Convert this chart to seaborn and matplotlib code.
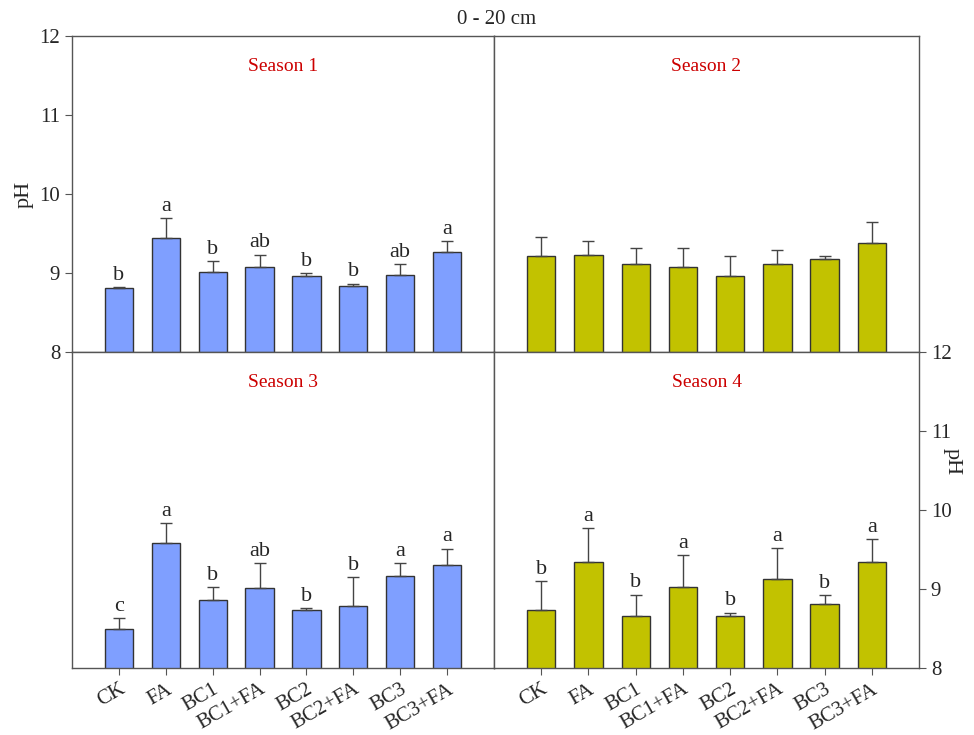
import numpy as np
import pandas as pd
import seaborn as sns
import matplotlib.pyplot as plt

treatments = ['CK', 'FA', 'BC1', 'BC1+FA', 'BC2', 'BC2+FA', 'BC3', 'BC3+FA']

s1_mean = [8.81, 9.44, 9.01, 9.07, 8.96, 8.835, 8.98, 9.27]
s1_err = [0.01, 0.25, 0.14, 0.16, 0.04, 0.03, 0.13, 0.13]
s1_let = ['b', 'a', 'b', 'ab', 'b', 'b', 'ab', 'a']

s2_mean = [9.22, 9.23, 9.11, 9.08, 8.96, 9.11, 9.18, 9.38]
s2_err = [0.24, 0.18, 0.21, 0.24, 0.25, 0.18, 0.03, 0.27]
s2_let = ['', '', '', '', '', '', '', '']

s3_mean = [8.50, 9.58, 8.86, 9.01, 8.74, 8.78, 9.17, 9.31]
s3_err = [0.13, 0.25, 0.16, 0.32, 0.015, 0.37, 0.16, 0.20]
s3_let = ['c', 'a', 'b', 'ab', 'b', 'b', 'a', 'a']

s4_mean = [8.74, 9.34, 8.66, 9.03, 8.66, 9.13, 8.81, 9.34]
s4_err = [0.36, 0.43, 0.27, 0.40, 0.04, 0.39, 0.11, 0.29]
s4_let = ['b', 'a', 'b', 'a', 'b', 'a', 'b', 'a']

sns.set_style('white')
plt.rcParams['font.family'] = ['Liberation Serif', 'DejaVu Serif']
plt.rcParams['axes.edgecolor'] = '#555555'
plt.rcParams['axes.linewidth'] = 1.0

blue = '#7f9fff'
olive = '#c2c200'

fig = plt.figure(figsize=(9.74, 7.35), dpi=100)
W, H = 974, 735


def box(x0, y0, x1, y1):
    return fig.add_axes([x0 / W, 1 - y1 / H, (x1 - x0) / W, (y1 - y0) / H])


panels = [
    (box(72, 36, 494, 352), s1_mean, s1_err, s1_let, blue, 'Season 1', 'tl'),
    (box(494, 36, 919, 352), s2_mean, s2_err, s2_let, olive, 'Season 2', 'tr'),
    (box(72, 352, 494, 668), s3_mean, s3_err, s3_let, blue, 'Season 3', 'bl'),
    (box(494, 352, 919, 668), s4_mean, s4_err, s4_let, olive, 'Season 4', 'br'),
]

for ax, mean, err, let, col, title, pos in panels:
    df = pd.DataFrame({'treatment': treatments, 'pH': mean})
    sns.barplot(data=df, x='treatment', y='pH', ax=ax, color=col,
                width=0.6, saturation=1, edgecolor='#333333', linewidth=1.0,
                errorbar=None)
    xs = np.arange(len(treatments))
    ax.errorbar(xs, mean, yerr=[np.zeros(len(err)), err], fmt='none',
                ecolor='#444444', elinewidth=1.0, capsize=4, capthick=1.0)
    for x, m, e, l in zip(xs, mean, err, let):
        if l:
            ax.text(x, m + e + 0.03, l, ha='center', va='bottom', fontsize=16)
    ax.set_xlim(-1, 8)
    ax.set_ylim(8, 12)
    ax.set_yticks([8, 9, 10, 11, 12])
    ax.set_xlabel('')
    ax.set_ylabel('')
    ax.text(0.5, 0.905, title, transform=ax.transAxes, ha='center', va='center',
            color='#cc0000', fontsize=14)
    ax.tick_params(axis='both', direction='out', length=5, color='#555555',
                   labelsize=15)
    if pos in ('tl', 'tr'):
        ax.set_xticks([])
    else:
        ax.set_xticks(xs)
        ax.set_xticklabels(treatments, rotation=30, ha='right',
                           rotation_mode='anchor', fontsize=15)
        ax.tick_params(axis='x', bottom=True, length=5)
    if pos == 'tl':
        ax.tick_params(axis='y', left=True, labelleft=True)
        ax.set_ylabel('pH', fontsize=16)
    elif pos == 'br':
        ax.yaxis.tick_right()
        ax.tick_params(axis='y', right=True, labelright=True, left=False,
                       labelleft=False)
    else:
        ax.set_yticks([])

fig.text(952 / W, 1 - 462 / H, 'pH', rotation=270, ha='center', va='center',
         fontsize=16)
fig.text(497 / W, 1 - 20 / H, '0 - 20 cm', ha='center', va='center', fontsize=15)

plt.savefig('out.png', dpi=100)
